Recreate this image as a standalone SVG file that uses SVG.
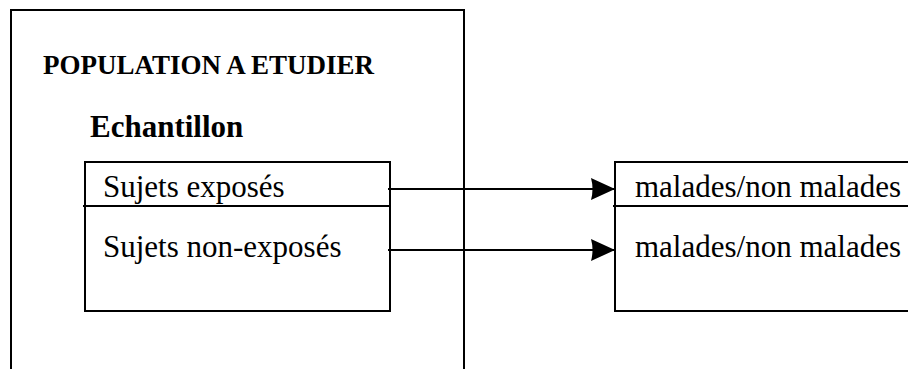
<svg xmlns="http://www.w3.org/2000/svg" width="908" height="369" viewBox="0 0 908 369">
<style>
.box{fill:none;stroke:#000;stroke-width:2}
.ln{stroke:#000;stroke-width:2;fill:none}
.t{font-family:"Liberation Serif","Times New Roman",serif;fill:#000;font-size:31px}
.b{font-weight:bold}
.h{font-size:27px}
</style>
<defs>
<marker id="ah" markerUnits="userSpaceOnUse" markerWidth="26" markerHeight="22" refX="24" refY="11" orient="auto">
<path d="M0,0 L24,11 L0,22 Q3,11 0,0 Z" fill="#000"/>
</marker>
</defs>
<rect width="908" height="369" fill="#fff"/>
<g id="population">
<path class="box" d="M11,369 V10 H464 V369"/>
<text class="t b h" x="43" y="74">POPULATION A ETUDIER</text>
<text class="t b" x="90" y="137">Echantillon</text>
</g>
<g id="echantillon">
<rect class="box" x="85" y="162" width="305" height="149"/>
<line class="ln" x1="83" y1="206" x2="390" y2="206"/>
<text class="t" x="103" y="197">Sujets exposés</text>
<text class="t" x="103" y="257">Sujets non-exposés</text>
</g>
<g id="resultats">
<path class="box" d="M910,162 H615 V311 H910"/>
<line class="ln" x1="613" y1="206" x2="910" y2="206"/>
<text class="t" x="635" y="197">malades/non malades</text>
<text class="t" x="635" y="257">malades/non malades</text>
</g>
<g id="connectors">
<line class="ln" x1="388" y1="189" x2="615" y2="189" marker-end="url(#ah)"/>
<line class="ln" x1="388" y1="250" x2="615" y2="250" marker-end="url(#ah)"/>
</g>
</svg>
